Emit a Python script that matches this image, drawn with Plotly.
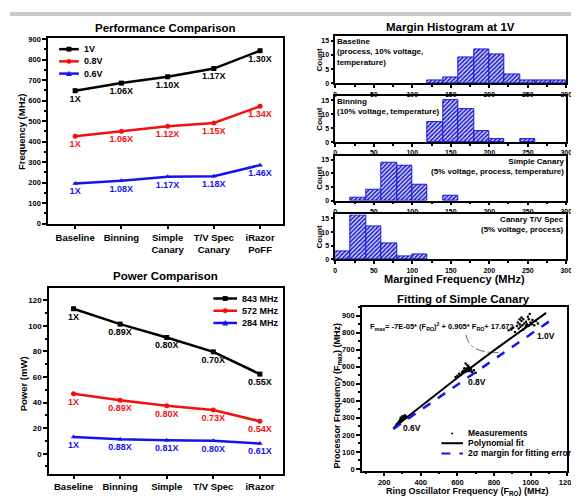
import plotly.graph_objects as go

W, H = 579, 496
FONT = "Liberation Sans, Arial"


def PX(p):
    return p / W


def PY(p):
    return 1 - p / H


# ---------------- data ----------------
categories = ["Baseline", "Binning", "Simple<br>Canary", "T/V Spec<br>Canary", "iRazor<br>PoFF"]

perf_names = ["1V", "0.8V", "0.6V"]
perf_1v = [648, 685, 716, 756, 843]
perf_08v = [426, 450, 475, 491, 572]
perf_06v = [195, 209, 228, 231, 285]
perf_1v_lbl = ["1X", "1.06X", "1.10X", "1.17X", "1.30X"]
perf_08v_lbl = ["1X", "1.06X", "1.12X", "1.15X", "1.34X"]
perf_06v_lbl = ["1X", "1.08X", "1.17X", "1.18X", "1.46X"]

power_names = ["843 MHz", "572 MHz", "284 MHz"]
power_843 = [113.3, 101.3, 90.8, 79.6, 62.2]
power_572 = [46.9, 41.8, 37.5, 34.2, 25.3]
power_284 = [13.0, 11.2, 10.5, 10.2, 7.9]
power_843_lbl = ["1X", "0.89X", "0.80X", "0.70X", "0.55X"]
power_572_lbl = ["1X", "0.89X", "0.80X", "0.73X", "0.54X"]
power_284_lbl = ["1X", "0.88X", "0.81X", "0.80X", "0.61X"]

bin_left = [0, 20, 40, 60, 80, 100, 120, 140, 160, 180, 200, 220, 240, 260, 280]
hist_baseline = [0, 0, 0, 0, 0, 0, 1, 2, 9, 12, 10, 3, 1, 1, 1]
hist_binning = [0, 0, 0, 0, 0, 0, 7, 15, 12, 4, 1, 0, 1, 0, 0]
hist_simple = [0, 1, 4, 14, 13, 6, 0, 2, 0, 0, 0, 0, 0, 0, 0]
hist_tvspec = [3, 16, 12, 6, 1, 2, 0, 0, 0, 0, 0, 0, 0, 0, 0]
hist_labels = ["Baseline<br>(process, 10% voltage,<br>temperature)",
               "Binning<br>(10% voltage, temperature)",
               "Simple Canary<br>(5% voltage, process, temperature)",
               "Canary T/V Spec<br>(5% voltage, process)"]

meas_ro = [268, 275, 280, 284, 288, 292, 295, 298, 300, 303, 306, 308, 310, 313, 316, 320, 325, 290, 300, 312, 285, 296, 305,
           590, 600, 610, 618, 625, 630, 635, 640, 645, 648, 650, 652, 655, 658, 660, 663, 665, 668, 670, 675, 680, 690, 700, 645, 655, 660, 638,
           880, 895, 905, 915, 925, 930, 935, 940, 945, 950, 955, 960, 965, 970, 975, 980, 985, 990, 995, 1000, 1010, 1020, 1030, 1040, 950, 960, 975, 990, 1005, 940]
meas_fmax = [262, 268, 275, 282, 290, 280, 288, 300, 295, 305, 292, 310, 300, 315, 305, 308, 302, 300, 310, 298, 270, 284, 290,
             540, 548, 560, 552, 566, 575, 570, 580, 585, 572, 590, 578, 582, 595, 588, 600, 580, 575, 590, 585, 570, 580, 565, 620, 610, 575, 592,
             815, 820, 830, 805, 840, 860, 825, 850, 835, 870, 845, 880, 855, 830, 865, 850, 895, 840, 910, 860, 875, 845, 870, 855, 890, 820, 840, 880, 850, 880]
fit_ro = [250, 400, 600, 800, 1000, 1085]
fit_fmax = [240, 369, 536, 697, 853, 917]
margin_ro = [250, 1100]
margin_fmax = [235, 866]

BLACK, RED, BLUE = "#000000", "#f01010", "#1414f0"

fig = go.Figure()


def axis(domain, anchor, **kw):
    d = dict(domain=domain, anchor=anchor, showline=True, linecolor="black", linewidth=2,
             mirror=True, ticks="outside", ticklen=4, tickwidth=1.5, tickcolor="black",
             showgrid=False, zeroline=False, tickangle=0,
             tickfont=dict(size=8, family=FONT, color="black"))
    d.update(kw)
    return d


# ---------------- performance / power ----------------
perf_series = [(perf_1v, perf_1v_lbl, BLACK, "square"),
               (perf_08v, perf_08v_lbl, RED, "circle"),
               (perf_06v, perf_06v_lbl, BLUE, "triangle-up")]
for (vals, lbl, c, sym), name in zip(perf_series, perf_names):
    fig.add_trace(go.Scatter(x=categories, y=vals, text=lbl, mode="lines+markers+text",
                             textposition="bottom center", name=name, showlegend=False,
                             line=dict(color=c, width=2.5), marker=dict(symbol=sym, size=5, color=c),
                             textfont=dict(color=c, size=9, family=FONT),
                             xaxis="x", yaxis="y", cliponaxis=False))

power_series = [(power_843, power_843_lbl, BLACK, "square"),
                (power_572, power_572_lbl, RED, "circle"),
                (power_284, power_284_lbl, BLUE, "triangle-up")]
for (vals, lbl, c, sym), name in zip(power_series, power_names):
    fig.add_trace(go.Scatter(x=categories, y=vals, text=lbl, mode="lines+markers+text",
                             textposition="bottom center", name=name, showlegend=False,
                             line=dict(color=c, width=2.5), marker=dict(symbol=sym, size=5, color=c),
                             textfont=dict(color=c, size=9, family=FONT),
                             xaxis="x2", yaxis="y2", cliponaxis=False))

# ---------------- histograms ----------------
hist_sets = [hist_baseline, hist_binning, hist_simple, hist_tvspec]
box_tb = [(25, 73), (86, 133), (147, 193), (207, 253)]
for i, counts in enumerate(hist_sets):
    xs = [b + 10 for b, c in zip(bin_left, counts) if c > 0]
    ys = [c for c in counts if c > 0]
    fig.add_trace(go.Bar(x=xs, y=ys, width=20, showlegend=False,
                         marker=dict(color="#d8d8ff", line=dict(color="#1a1ae0", width=1),
                                     pattern=dict(shape="/", fgcolor="#2020c8", bgcolor="#e0e0ff",
                                                  size=3, solidity=0.55, fillmode="replace")),
                         xaxis=f"x{i + 3}", yaxis=f"y{i + 3}"))

# ---------------- fit ----------------
fig.add_trace(go.Scatter(x=meas_ro, y=meas_fmax, mode="markers", name="Measurements", showlegend=False,
                         marker=dict(size=2.5, color="black"), xaxis="x7", yaxis="y7"))
fig.add_trace(go.Scatter(x=fit_ro, y=fit_fmax, mode="lines", name="Polynomial fit", showlegend=False,
                         line=dict(color="black", width=2), xaxis="x7", yaxis="y7"))
fig.add_trace(go.Scatter(x=margin_ro, y=margin_fmax, mode="lines", name="2σ margin for fitting error",
                         showlegend=False, line=dict(color=BLUE, width=2.5, dash="dash"),
                         xaxis="x7", yaxis="y7"))

layout = dict(
    width=W, height=H, margin=dict(l=0, r=0, t=0, b=0),
    paper_bgcolor="white", plot_bgcolor="white",
    font=dict(family=FONT, color="black", weight="bold"),
    showlegend=False, bargap=0,
)

cat_tick = dict(size=9.5, family=FONT, color="black")
layout["xaxis"] = axis([PX(39), PX(278)], "y", type="category", range=[-0.58, 4.5], tickfont=cat_tick, ticklen=3)
layout["yaxis"] = axis([PY(217), PY(27)], "x", range=[-3, 903], tickvals=list(range(0, 901, 100)),
                       tickfont=dict(size=7.5, family=FONT, color="black"),
                       minor=dict(ticks="outside", ticklen=2, tickcolor="black", dtick=50))
layout["xaxis2"] = axis([PX(40), PX(278)], "y2", type="category", range=[-0.52, 4.5], tickfont=cat_tick, ticklen=3)
layout["yaxis2"] = axis([PY(472), PY(282)], "x2", range=[-15.5, 129.7], tickvals=list(range(0, 121, 20)),
                        minor=dict(ticks="outside", ticklen=2, tickcolor="black", dtick=10))
for i, (t, b) in enumerate(box_tb):
    n = i + 3
    layout[f"xaxis{n}"] = axis([PX(331), PX(566)], f"y{n}", range=[0, 300], tickvals=list(range(0, 301, 50)),
                               linewidth=1.5, ticklen=3, tickfont=dict(size=7, family=FONT, color="black"),
                               minor=dict(ticks="outside", ticklen=2, tickcolor="black", dtick=25))
    layout[f"yaxis{n}"] = axis([PY(b), PY(t)], f"x{n}", range=[0, 16.5], tickvals=[0, 5, 10, 15],
                               linewidth=1.5, ticklen=3, tickfont=dict(size=7, family=FONT, color="black"))
layout["xaxis7"] = axis([PX(358), PX(567)], "y7", range=[78, 1200], tickvals=list(range(200, 1201, 200)),
                        linewidth=1.5, tickfont=dict(size=7.5, family=FONT, color="black"),
                        minor=dict(ticks="outside", ticklen=2, tickcolor="black", dtick=100))
layout["yaxis7"] = axis([PY(469), PY(302)], "x7", range=[-10, 950], tickvals=list(range(0, 901, 100)),
                        linewidth=1.5, tickfont=dict(size=7.5, family=FONT, color="black"),
                        minor=dict(ticks="outside", ticklen=2, tickcolor="black", dtick=50))

ann = []


def text(x, y, s, size, **kw):
    d = dict(x=PX(x), y=PY(y), xref="paper", yref="paper", text=s, showarrow=False,
             xanchor="center", yanchor="middle",
             font=dict(size=size, family=FONT, color=kw.pop("color", "black")))
    d.update(kw)
    ann.append(d)


text(158, 16, "Performance Comparison", 11.5)
text(158, 270, "Power Comparison", 11.5)
text(448, 15, "Margin Histogram at 1V", 11.5)
text(461, 293, "Fitting of Simple Canary", 11.5)
text(12, 122, "Frequency (MHz)", 9.5, textangle=-90)
text(14, 380, "Power (mW)", 9.5, textangle=-90)
text(452, 273, "Margined Frequency (MHz)", 11)
text(333, 392, "Processor Frequency (F<sub>max</sub>) (MHz)", 9, textangle=-90)
text(465, 490, "Ring Oscillator Frequency (F<sub>RO</sub>) (MHz)", 9)
for i, (t, b) in enumerate(box_tb):
    text(315, (t + b) / 2, "Count", 8, textangle=-90)
    if i < 2:
        text(331, t - 1, hist_labels[i], 8, xanchor="left", yanchor="top", align="left")
    else:
        text(566, t - 1, hist_labels[i], 8, xanchor="right", yanchor="top", align="right")

ann.append(dict(x=112, y=835, xref="x7", yref="y7", xanchor="left", yanchor="middle", showarrow=False,
                text="F<sub>max</sub>= -7E-05* (F<sub>RO</sub>)<sup>2</sup> + 0.905* F<sub>RO</sub>+ 17.672",
                font=dict(size=7.5, family=FONT, color="black")))
for vx, vy, s in [(1083, 779, "1.0V"), (706, 511, "0.8V"), (351, 239, "0.6V")]:
    ann.append(dict(x=vx, y=vy, xref="x7", yref="y7", showarrow=False, text=s,
                    xanchor="center", yanchor="middle",
                    font=dict(size=8.5, family=FONT, color="black")))

shapes = [dict(type="rect", xref="paper", yref="paper", x0=0, x1=1, y0=PY(4), y1=1,
               fillcolor="#c9c9c9", line=dict(width=0), layer="below"),
          dict(type="path", xref="x7", yref="y7", path="M 647,789 Q 662,680 823,684",
               line=dict(color="#666666", width=1, dash="dashdot"))]


# manual legends
def legend_row(x0, x1, y, color, sym, label, size=9, lw=2.5):
    shapes.append(dict(type="line", xref="paper", yref="paper", x0=PX(x0), x1=PX(x1), y0=PY(y), y1=PY(y),
                       line=dict(color=color, width=lw)))
    xm = (x0 + x1) / 2
    r = 2.5
    if sym == "square":
        shapes.append(dict(type="rect", xref="paper", yref="paper", x0=PX(xm - r), x1=PX(xm + r),
                           y0=PY(y + r), y1=PY(y - r), fillcolor=color, line=dict(width=0)))
    elif sym == "circle":
        shapes.append(dict(type="circle", xref="paper", yref="paper", x0=PX(xm - r), x1=PX(xm + r),
                           y0=PY(y + r), y1=PY(y - r), fillcolor=color, line=dict(width=0)))
    elif sym == "triangle":
        shapes.append(dict(type="path", xref="paper", yref="paper",
                           path=f"M {PX(xm - 3)},{PY(y + 2.5)} L {PX(xm + 3)},{PY(y + 2.5)} L {PX(xm)},{PY(y - 3)} Z",
                           fillcolor=color, line=dict(width=0)))
    text(x1 + 3, y, label, size, xanchor="left")


syms = ["square", "circle", "triangle"]
cols = [BLACK, RED, BLUE]
for k in range(3):
    legend_row(50, 70, 38 + 12.5 * k, cols[k], syms[k], perf_names[k])
    legend_row(207, 231, 293 + 12.5 * k, cols[k], syms[k], power_names[k])

shapes.append(dict(type="circle", xref="paper", yref="paper", x0=PX(449), x1=PX(451), y0=PY(432), y1=PY(430),
                   fillcolor="black", line=dict(width=0)))
text(464, 430.7, "Measurements", 8.5, xanchor="left")
shapes.append(dict(type="line", xref="paper", yref="paper", x0=PX(439), x1=PX(461), y0=PY(441), y1=PY(441),
                   line=dict(color="black", width=2)))
text(464, 441, "Polynomial fit", 8.5, xanchor="left")
shapes.append(dict(type="line", xref="paper", yref="paper", x0=PX(439), x1=PX(461), y0=PY(451.5), y1=PY(451.5),
                   line=dict(color=BLUE, width=2, dash="dash")))
text(464, 451.5, "2σ margin for fitting error", 8.5, xanchor="left")

layout["annotations"] = ann
layout["shapes"] = shapes
fig.update_layout(**layout)
fig.write_html("out.html")
